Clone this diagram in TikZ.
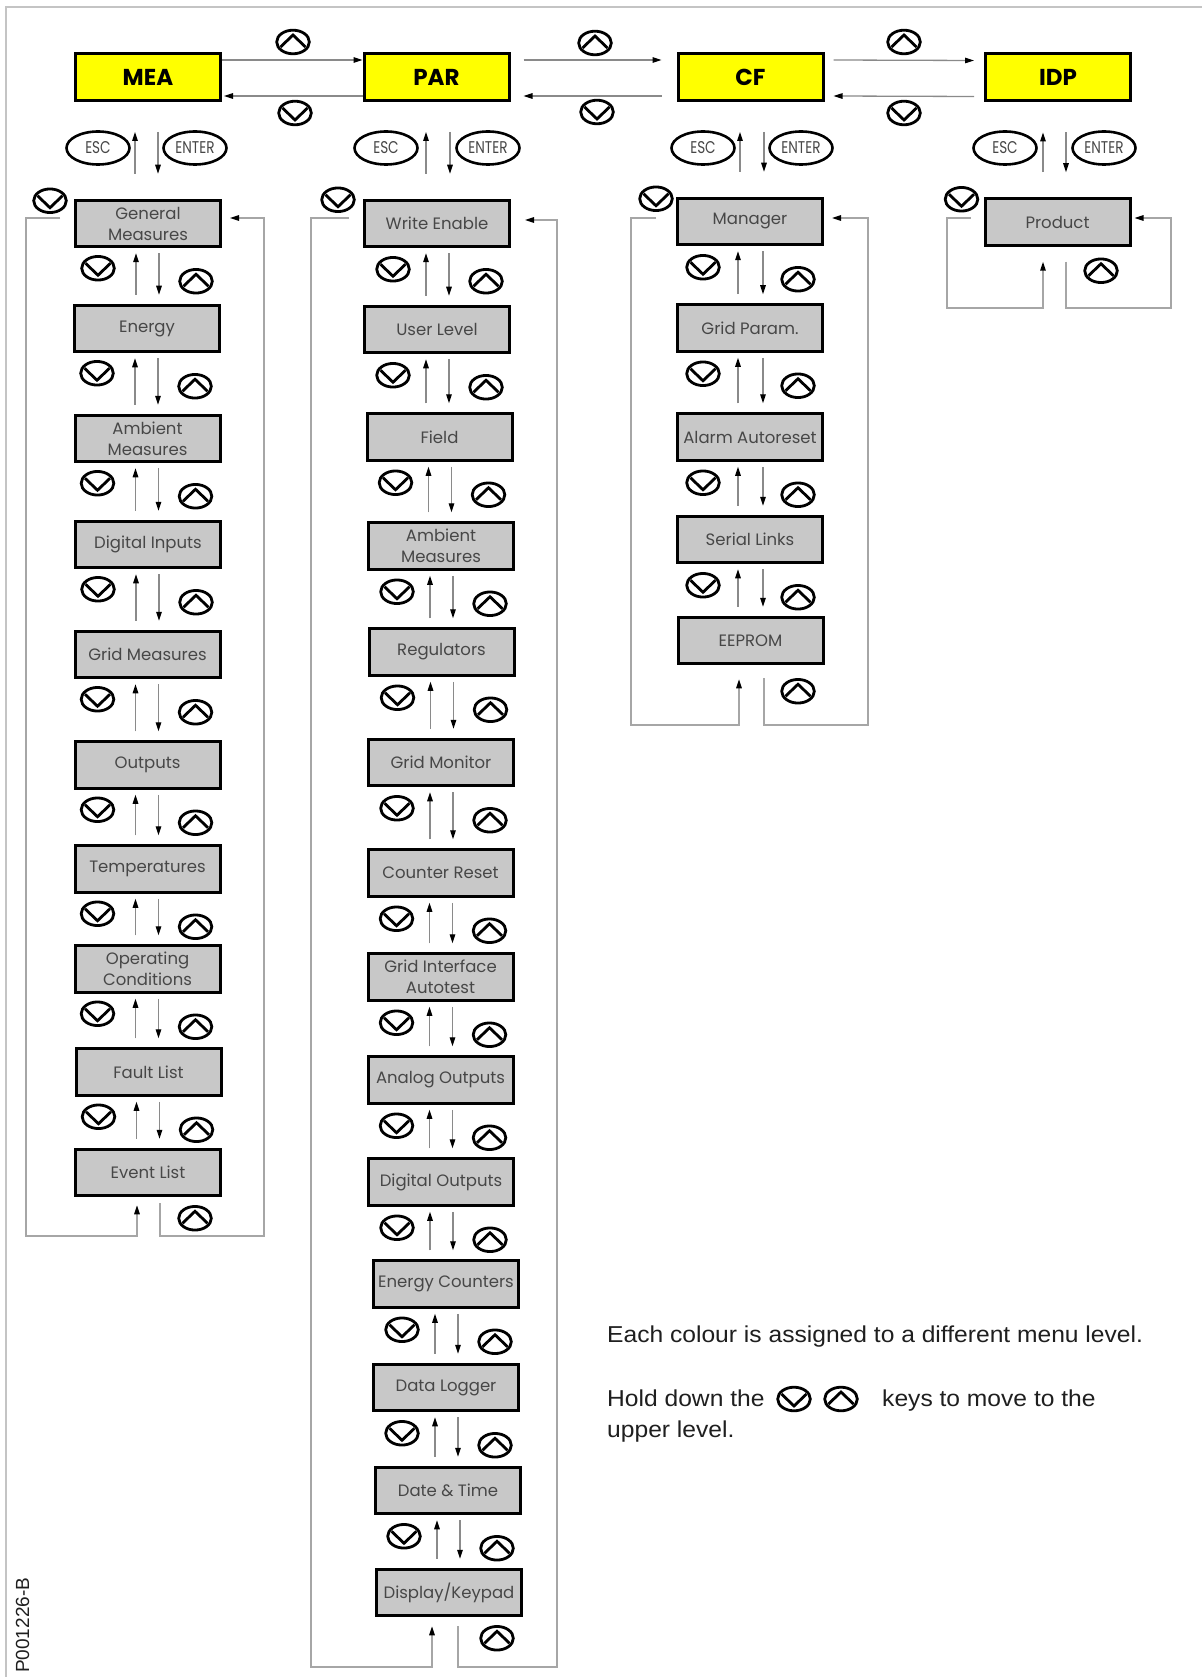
\documentclass[tikz,border=0pt]{standalone}
\usepackage{fontspec}
\setmainfont{Poppins}
\newfontfamily\boxfont{Poppins}
\newfontfamily\condfont[FakeStretch=0.8]{Poppins}
\newfontfamily\arialfont[FakeStretch=1.07]{Liberation Sans}
\newfontfamily\arialplain{Liberation Sans}
\usetikzlibrary{arrows.meta,calc,shapes.geometric}
\definecolor{boxgray}{HTML}{C8C8C8}
\definecolor{txtgray}{HTML}{474747}
\definecolor{framegray}{HTML}{C4C4C4}
\definecolor{loopgray}{HTML}{A6A6A6}
\definecolor{shaftgray}{HTML}{8A8A8A}
\definecolor{ylw}{HTML}{FFFF00}

\tikzset{
  ybox/.style={draw=black, line width=3pt, fill=ylw, minimum width=145pt, minimum height=47pt, inner sep=0pt,
    font=\boxfont\bfseries\fontsize{23}{23}\selectfont},
  gbox/.style={draw=black, line width=3pt, fill=boxgray, minimum width=145pt, minimum height=46.5pt, inner sep=0pt,
    text=txtgray, align=center, font=\boxfont\fontsize{16.5}{21}\selectfont},
  keyov/.style={ellipse, draw=black, line width=2.6pt, minimum width=63pt, minimum height=33pt, inner sep=0pt,
    text=txtgray, font=\condfont\fontsize{17}{17}\selectfont},
  arr/.style={draw=shaftgray, line width=1.3pt, -{Triangle[length=9pt,width=5.5pt,color=black]}},
  loopl/.style={draw=loopgray, line width=1.5pt},
  looparr/.style={draw=loopgray, line width=1.5pt, -{Triangle[length=9pt,width=5.5pt,color=black]}},
  btn/.style={draw=black, line width=2.8pt},
  upbtn/.pic={\draw[btn] (0,0) ellipse [x radius=16.3, y radius=11.8];
              \draw[btn, line join=miter] (-12.5,5) -- (0,-7) -- (12.5,5);},
  dnbtn/.pic={\draw[btn] (0,0) ellipse [x radius=16.3, y radius=11.8];
              \draw[btn, line join=miter] (-12.5,-5) -- (0,7) -- (12.5,-5);},
  legend/.style={inner sep=0pt, anchor=base west, text=black!88, font=\arialfont\fontsize{23}{27}\selectfont},
}

% #1 upper #2 lower #3 up-arrow xoff #4 down-arrow xoff #5,#6 down button #7,#8 up button
\newcommand{\linkpair}[8]{%
  \draw[arr] let \p1=(#1.south), \p2=(#2.north) in ({\x1+(#3pt)},{\y2+9pt}) -- ({\x1+(#3pt)},{\y1-5pt});
  \draw[arr] let \p1=(#1.south), \p2=(#2.north) in ({\x1+(#4pt)},{\y1-5pt}) -- ({\x1+(#4pt)},{\y2+9pt});
  \pic at ($(#1.south)+(#5,#6)$) {dnbtn};
  \pic at ($(#1.south)+(#7,#8)$) {upbtn};
}
% #1 top box #2 first sub box #3 up xoff #4 down xoff
\newcommand{\esclinks}[4]{%
  \draw[arr] let \p1=(#1.south), \p2=(#2.north) in ({\x1+(#3pt)},{\y2+25pt}) -- ({\x1+(#3pt)},{\y1-30pt});
  \draw[arr] let \p1=(#1.south), \p2=(#2.north) in ({\x1+(#4pt)},{\y1-30pt}) -- ({\x1+(#4pt)},{\y2+25pt});
}

\begin{document}
\begin{tikzpicture}[x=1pt,y=-1pt]
\useasboundingbox (0,0) rectangle (1202,1677);
\fill[white] (0,0) rectangle (1202,1677);
\draw[framegray, line width=2pt] (6,1677) -- (6,7) -- (1202,7);

% top level
\node[ybox] (MEA) at (148,77) {MEA};
\node[ybox] (PAR) at (436.5,77) {PAR};
\node[ybox] (CF)  at (750.5,77) {CF};
\node[ybox] (IDP) at (1058,77.5) {IDP};

\draw[arr] ([yshift=17pt]MEA.east) -- ([yshift=17pt]PAR.west);
\draw[arr] ([yshift=-19pt]PAR.west) -- ([yshift=-19pt,xshift=2pt]MEA.east);
\draw[arr] ([yshift=17pt,xshift=13pt]PAR.east) -- ([yshift=17pt,xshift=-15pt]CF.west);
\draw[arr] ([yshift=-19pt,xshift=-15pt]CF.west) -- ([yshift=-19pt,xshift=13pt]PAR.east);
\draw[arr] ([yshift=17pt,xshift=9pt]CF.east) -- ([yshift=17pt,xshift=-10pt]IDP.west);
\draw[arr] ([yshift=-19pt,xshift=-10pt]IDP.west) -- ([yshift=-19pt,xshift=9pt]CF.east);
\pic at (293,42) {upbtn};  \pic at (295,113) {dnbtn};
\pic at (595,43) {upbtn};  \pic at (597,112) {dnbtn};
\pic at (904,42) {upbtn};  \pic at (904,113) {dnbtn};

% ESC / ENTER keys
\node[keyov] (escM) at (98,148) {ESC};   \node[keyov] (entM) at (195,148) {ENTER};
\node[keyov] (escP) at (386,148) {ESC};  \node[keyov] (entP) at (488,148) {ENTER};
\node[keyov] (escC) at (703,148) {ESC};  \node[keyov] (entC) at (801,148) {ENTER};
\node[keyov] (escI) at (1005,148) {ESC}; \node[keyov] (entI) at (1104,148) {ENTER};

% MEA column
\node[gbox] (mea1) at (148,223.5) {General\\Measures};
\node[gbox] (mea2) at (147,328.5) {Energy};
\node[gbox] (mea3) at (147.5,438.5) {Ambient\\Measures};
\node[gbox] (mea4) at (148,544.5) {Digital Inputs};
\node[gbox] (mea5) at (147.5,654.5) {Grid Measures};
\node[gbox] (mea6) at (147.5,765) {Outputs};
\node[gbox] (mea7) at (147.5,869) {Temperatures};
\node[gbox] (mea8) at (147.5,969) {Operating\\Conditions};
\node[gbox] (mea9) at (148.5,1072) {Fault List};
\node[gbox] (mea10) at (148,1172.5) {Event List};

% PAR column
\node[gbox] (par1) at (437,223.5) {Write Enable};
\node[gbox] (par2) at (437,329.5) {User Level};
\node[gbox] (par3) at (439.5,437) {Field};
\node[gbox] (par4) at (441,546) {Ambient\\Measures};
\node[gbox] (par5) at (441.5,652) {Regulators};
\node[gbox] (par6) at (441,762.5) {Grid Monitor};
\node[gbox] (par7) at (440.5,873) {Counter Reset};
\node[gbox] (par8) at (440.5,977) {Grid Interface\\Autotest};
\node[gbox] (par9) at (440.5,1080) {Analog Outputs};
\node[gbox] (par10) at (441,1182) {Digital Outputs};
\node[gbox] (par11) at (446,1284) {Energy Counters};
\node[gbox] (par12) at (446,1387.5) {Data Logger};
\node[gbox] (par13) at (448,1490.5) {Date \& Time};
\node[gbox] (par14) at (449,1592.5) {Display/Keypad};

% CF column
\node[gbox] (cf1) at (750,221.5) {Manager};
\node[gbox] (cf2) at (750,328) {Grid Param.};
\node[gbox] (cf3) at (750,437) {Alarm Autoreset};
\node[gbox] (cf4) at (750,539.5) {Serial Links};
\node[gbox] (cf5) at (750.5,640.5) {EEPROM};

% IDP column
\node[gbox] (idp1) at (1057.5,222) {Product};

% ESC/ENTER arrows
\esclinks{MEA}{mea1}{-13}{10}
\esclinks{PAR}{par1}{-10.5}{13.5}
\esclinks{CF}{cf1}{-10.5}{13.5}
\esclinks{IDP}{idp1}{-15}{8}

% links between sub boxes
\foreach \i [evaluate=\i as \j using int(\i+1)] in {1,...,9} {\linkpair{mea\i}{mea\j}{-12}{11}{-50}{20}{48}{33}}
\foreach \i [evaluate=\i as \j using int(\i+1)] in {1,...,13} {\linkpair{par\i}{par\j}{-11}{12}{-44}{21}{49}{33}}
\foreach \i [evaluate=\i as \j using int(\i+1)] in {1,...,4} {\linkpair{cf\i}{cf\j}{-12}{13}{-47}{21}{48}{33}}

% first-box down buttons
\pic at ($(mea1.north west)+(-24,2)$) {dnbtn};
\pic at ($(par1.north west)+(-25,1)$) {dnbtn};
\pic at ($(cf1.north west)+(-20,2)$) {dnbtn};
\pic at ($(idp1.north west)+(-22,2)$) {dnbtn};

% loops
\coordinate (mlc) at (26,1236);  \coordinate (mrc) at (264,1236);
\draw[looparr] ([xshift=-14pt,yshift=5.5pt]mea1.west) -| (mlc) -| ([xshift=-11pt,yshift=-8pt]mea10.south);
\draw[looparr] ([xshift=12pt,yshift=-6pt]mea10.south) |- (mrc) |- ([xshift=8pt,yshift=5.5pt]mea1.east);
\pic at ($(mea10.south)+(47,21)$) {upbtn};

\coordinate (plc) at (311,1667);  \coordinate (prc) at (557,1667);
\draw[looparr] ([xshift=-14pt,yshift=5.5pt]par1.west) -| (plc) -| ([xshift=-17pt,yshift=-9pt]par14.south);
\draw[looparr] ([xshift=9pt,yshift=-9pt]par14.south) |- (prc) |- ([xshift=14pt,yshift=3.5pt]par1.east);
\pic at ($(par14.south)+(48,21)$) {upbtn};

\coordinate (clc) at (631,725);  \coordinate (crc) at (868,725);
\draw[looparr] ([xshift=-20pt,yshift=3.5pt]cf1.west) -| (clc) -| ([xshift=-11.5pt,yshift=-14pt]cf5.south);
\draw[looparr] ([xshift=13.5pt,yshift=-13pt]cf5.south) |- (crc) |- ([xshift=8pt,yshift=3.5pt]cf1.east);
\pic at ($(cf5.south)+(47.5,26)$) {upbtn};

\coordinate (ilc) at (947,308);  \coordinate (irc) at (1171,308);
\draw[looparr] ([xshift=-13pt,yshift=4pt]idp1.west) -| (ilc) -| ([xshift=-14.5pt,yshift=-15pt]idp1.south);
\draw[looparr] ([xshift=8.5pt,yshift=-15pt]idp1.south) |- (irc) |- ([xshift=3pt,yshift=4pt]idp1.east);
\pic at ($(idp1.south)+(43.5,24)$) {upbtn};

% legend
\node[legend] (leg1) at (607,1342) {Each colour is assigned to a different menu level.};
\node[legend] (leg2) at (607,1406) {Hold down the};
\pic at (794,1399) {dnbtn};
\pic at (841,1399) {upbtn};
\node[legend] (leg3) at (882,1406) {keys to move to the};
\node[legend] (leg4) at (607,1437) {upper level.};

% drawing code
\node[rotate=90, anchor=base west, inner sep=0pt, text=black!88, font=\arialplain\fontsize{19}{19}\selectfont] (code) at (29,1673) {P001226-B};
\end{tikzpicture}
\end{document}
